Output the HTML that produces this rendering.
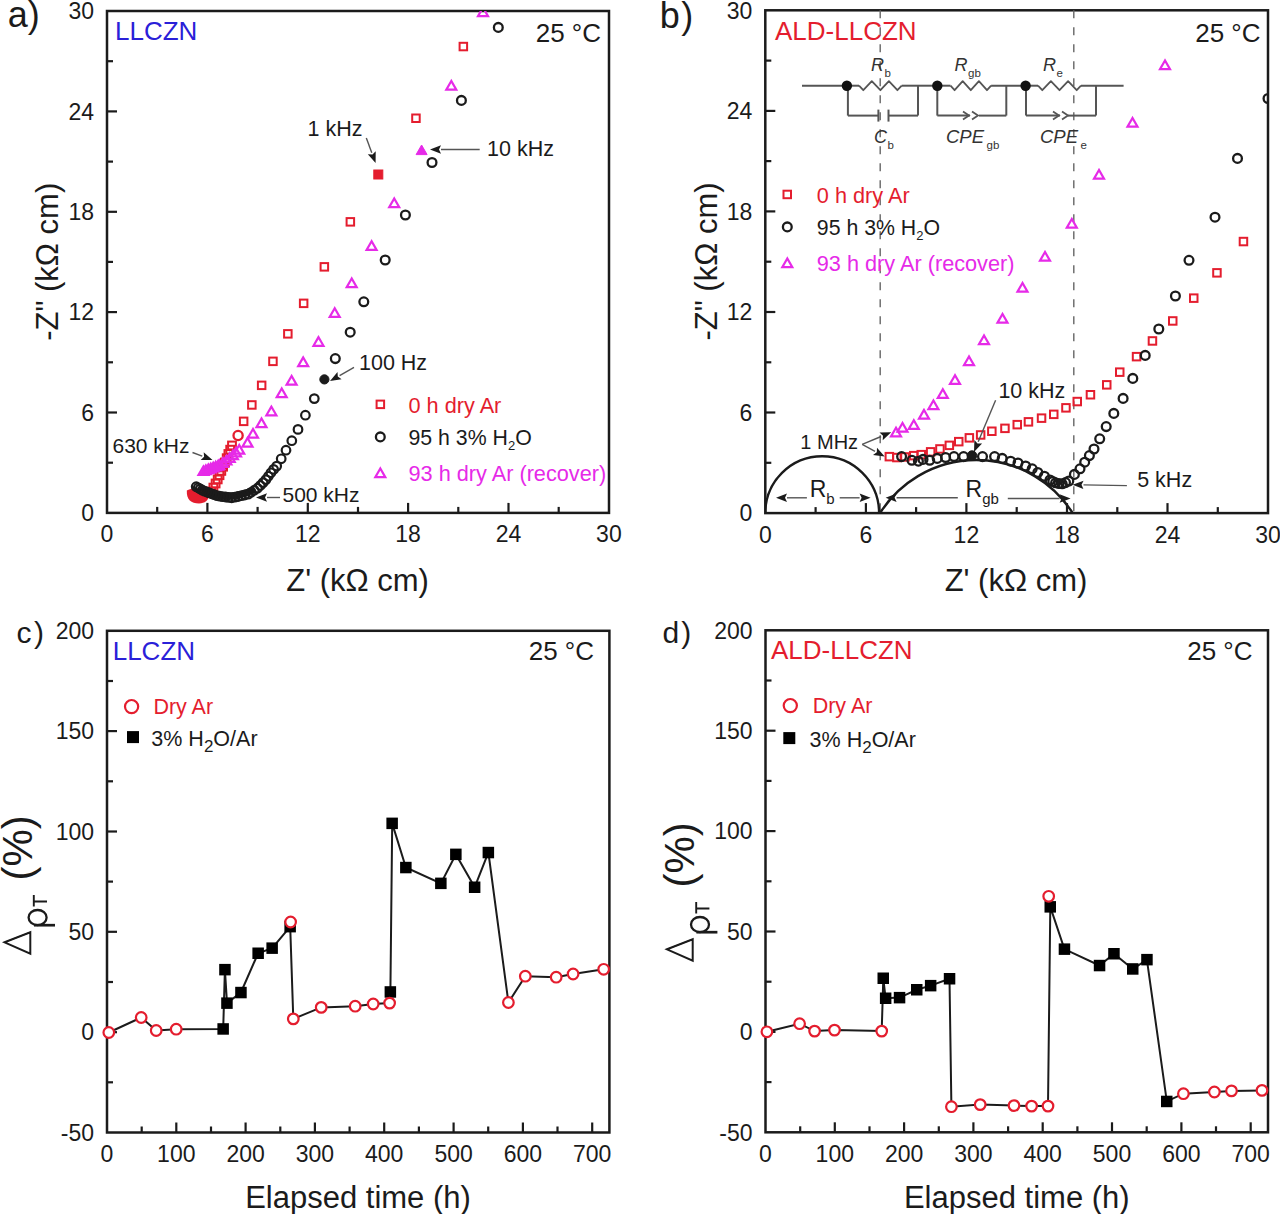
<!DOCTYPE html>
<html><head><meta charset="utf-8"><style>html,body{margin:0;padding:0;background:#fff;}svg{display:block;}</style></head><body>
<svg width="1280" height="1214" viewBox="0 0 1280 1214" font-family='"Liberation Sans", sans-serif'>
<rect width="1280" height="1214" fill="#ffffff"/>
<rect x="107" y="11" width="502" height="501.9" fill="none" stroke="#1b1b1b" stroke-width="2.5"/>
<line x1="157.2" y1="512.9" x2="157.2" y2="506.9" stroke="#1b1b1b" stroke-width="2.2" />
<line x1="207.4" y1="512.9" x2="207.4" y2="502.9" stroke="#1b1b1b" stroke-width="2.2" />
<line x1="257.6" y1="512.9" x2="257.6" y2="506.9" stroke="#1b1b1b" stroke-width="2.2" />
<line x1="307.8" y1="512.9" x2="307.8" y2="502.9" stroke="#1b1b1b" stroke-width="2.2" />
<line x1="358.0" y1="512.9" x2="358.0" y2="506.9" stroke="#1b1b1b" stroke-width="2.2" />
<line x1="408.1" y1="512.9" x2="408.1" y2="502.9" stroke="#1b1b1b" stroke-width="2.2" />
<line x1="458.3" y1="512.9" x2="458.3" y2="506.9" stroke="#1b1b1b" stroke-width="2.2" />
<line x1="508.5" y1="512.9" x2="508.5" y2="502.9" stroke="#1b1b1b" stroke-width="2.2" />
<line x1="558.7" y1="512.9" x2="558.7" y2="506.9" stroke="#1b1b1b" stroke-width="2.2" />
<line x1="107.0" y1="462.7" x2="113.0" y2="462.7" stroke="#1b1b1b" stroke-width="2.2" />
<line x1="107.0" y1="412.5" x2="117.0" y2="412.5" stroke="#1b1b1b" stroke-width="2.2" />
<line x1="107.0" y1="362.3" x2="113.0" y2="362.3" stroke="#1b1b1b" stroke-width="2.2" />
<line x1="107.0" y1="312.1" x2="117.0" y2="312.1" stroke="#1b1b1b" stroke-width="2.2" />
<line x1="107.0" y1="261.9" x2="113.0" y2="261.9" stroke="#1b1b1b" stroke-width="2.2" />
<line x1="107.0" y1="211.8" x2="117.0" y2="211.8" stroke="#1b1b1b" stroke-width="2.2" />
<line x1="107.0" y1="161.6" x2="113.0" y2="161.6" stroke="#1b1b1b" stroke-width="2.2" />
<line x1="107.0" y1="111.4" x2="117.0" y2="111.4" stroke="#1b1b1b" stroke-width="2.2" />
<line x1="107.0" y1="61.2" x2="113.0" y2="61.2" stroke="#1b1b1b" stroke-width="2.2" />
<text x="107.0" y="542.4" font-size="23" fill="#1b1b1b" text-anchor="middle" >0</text>
<text x="207.4" y="542.4" font-size="23" fill="#1b1b1b" text-anchor="middle" >6</text>
<text x="307.8" y="542.4" font-size="23" fill="#1b1b1b" text-anchor="middle" >12</text>
<text x="408.1" y="542.4" font-size="23" fill="#1b1b1b" text-anchor="middle" >18</text>
<text x="508.5" y="542.4" font-size="23" fill="#1b1b1b" text-anchor="middle" >24</text>
<text x="608.9" y="542.4" font-size="23" fill="#1b1b1b" text-anchor="middle" >30</text>
<text x="94.0" y="521.1" font-size="23" fill="#1b1b1b" text-anchor="end" >0</text>
<text x="94.0" y="420.7" font-size="23" fill="#1b1b1b" text-anchor="end" >6</text>
<text x="94.0" y="320.3" font-size="23" fill="#1b1b1b" text-anchor="end" >12</text>
<text x="94.0" y="220.0" font-size="23" fill="#1b1b1b" text-anchor="end" >18</text>
<text x="94.0" y="119.6" font-size="23" fill="#1b1b1b" text-anchor="end" >24</text>
<text x="94.0" y="19.2" font-size="23" fill="#1b1b1b" text-anchor="end" >30</text>
<text x="7.8" y="27.2" font-size="36" fill="#1b1b1b" text-anchor="start" >a)</text>
<text x="115.0" y="40.3" font-size="26" fill="#2a20d8" text-anchor="start" >LLCZN</text>
<text x="601.0" y="41.5" font-size="26" fill="#1b1b1b" text-anchor="end" >25 °C</text>
<text x="357.6" y="590.8" font-size="31" fill="#1b1b1b" text-anchor="middle" >Z' (kΩ cm)</text>
<text transform="translate(57.6,261.8) rotate(-90)" font-size="31" fill="#1b1b1b" text-anchor="middle">-Z" (kΩ cm)</text>
<clipPath id="ca"><rect x="107" y="11" width="502" height="501.9"/></clipPath>
<g clip-path="url(#ca)">
<rect x="459.6" y="42.8" width="7.5" height="7.5" fill="none" stroke="#e41d2e" stroke-width="2"/>
<rect x="412.2" y="114.5" width="7.5" height="7.5" fill="none" stroke="#e41d2e" stroke-width="2"/>
<rect x="346.6" y="218.1" width="7.5" height="7.5" fill="none" stroke="#e41d2e" stroke-width="2"/>
<rect x="320.6" y="263.1" width="7.5" height="7.5" fill="none" stroke="#e41d2e" stroke-width="2"/>
<rect x="299.9" y="299.6" width="7.5" height="7.5" fill="none" stroke="#e41d2e" stroke-width="2"/>
<rect x="284.1" y="330.1" width="7.5" height="7.5" fill="none" stroke="#e41d2e" stroke-width="2"/>
<rect x="269.2" y="357.6" width="7.5" height="7.5" fill="none" stroke="#e41d2e" stroke-width="2"/>
<rect x="257.9" y="381.6" width="7.5" height="7.5" fill="none" stroke="#e41d2e" stroke-width="2"/>
<rect x="248.1" y="401.2" width="7.5" height="7.5" fill="none" stroke="#e41d2e" stroke-width="2"/>
<rect x="239.9" y="417.6" width="7.5" height="7.5" fill="none" stroke="#e41d2e" stroke-width="2"/>
<rect x="228.1" y="441.6" width="7.8" height="7.8" fill="none" stroke="#e41d2e" stroke-width="2"/>
<rect x="226.3" y="445.8" width="7.8" height="7.8" fill="none" stroke="#e41d2e" stroke-width="2"/>
<rect x="224.5" y="450.1" width="7.8" height="7.8" fill="none" stroke="#e41d2e" stroke-width="2"/>
<rect x="222.8" y="454.3" width="7.8" height="7.8" fill="none" stroke="#e41d2e" stroke-width="2"/>
<rect x="221.0" y="458.6" width="7.8" height="7.8" fill="none" stroke="#e41d2e" stroke-width="2"/>
<rect x="219.2" y="462.8" width="7.8" height="7.8" fill="none" stroke="#e41d2e" stroke-width="2"/>
<rect x="217.4" y="467.0" width="7.8" height="7.8" fill="none" stroke="#e41d2e" stroke-width="2"/>
<rect x="215.6" y="471.3" width="7.8" height="7.8" fill="none" stroke="#e41d2e" stroke-width="2"/>
<rect x="213.8" y="475.5" width="7.8" height="7.8" fill="none" stroke="#e41d2e" stroke-width="2"/>
<rect x="211.7" y="479.6" width="7.8" height="7.8" fill="none" stroke="#e41d2e" stroke-width="2"/>
<rect x="209.5" y="483.7" width="7.8" height="7.8" fill="none" stroke="#e41d2e" stroke-width="2"/>
<rect x="207.4" y="487.7" width="7.8" height="7.8" fill="none" stroke="#e41d2e" stroke-width="2"/>
<path d="M 186.8 490.5 C 186.5 500 191 503.4 199 503.4 C 205 503.4 208.6 500 208.4 496.5 L 206.5 489.5 C 200 487.5 192 487.6 186.8 490.5 Z" fill="#e41d2e"/>
<rect x="373.8" y="170.0" width="9.0" height="9.0" fill="#e41d2e" stroke="#e41d2e" stroke-width="1"/>
<circle cx="238.1" cy="435.5" r="4.6" fill="none" stroke="#e41d2e" stroke-width="2.3"/>
<polygon points="483.0,7.5 478.0,16.2 488.0,16.2" fill="none" stroke="#e62ae8" stroke-width="2.2" stroke-linejoin="miter"/>
<polygon points="451.3,81.0 446.3,89.7 456.3,89.7" fill="none" stroke="#e62ae8" stroke-width="2.2" stroke-linejoin="miter"/>
<polygon points="394.2,198.5 389.2,207.2 399.2,207.2" fill="none" stroke="#e62ae8" stroke-width="2.2" stroke-linejoin="miter"/>
<polygon points="371.6,241.2 366.6,249.9 376.6,249.9" fill="none" stroke="#e62ae8" stroke-width="2.2" stroke-linejoin="miter"/>
<polygon points="351.7,278.5 346.7,287.2 356.7,287.2" fill="none" stroke="#e62ae8" stroke-width="2.2" stroke-linejoin="miter"/>
<polygon points="334.7,308.2 329.7,316.9 339.7,316.9" fill="none" stroke="#e62ae8" stroke-width="2.2" stroke-linejoin="miter"/>
<polygon points="318.5,337.1 313.5,345.8 323.5,345.8" fill="none" stroke="#e62ae8" stroke-width="2.2" stroke-linejoin="miter"/>
<polygon points="303.2,357.4 298.2,366.1 308.2,366.1" fill="none" stroke="#e62ae8" stroke-width="2.2" stroke-linejoin="miter"/>
<polygon points="291.6,376.0 286.6,384.7 296.6,384.7" fill="none" stroke="#e62ae8" stroke-width="2.2" stroke-linejoin="miter"/>
<polygon points="281.7,388.5 276.7,397.2 286.7,397.2" fill="none" stroke="#e62ae8" stroke-width="2.2" stroke-linejoin="miter"/>
<polygon points="271.4,406.6 266.4,415.3 276.4,415.3" fill="none" stroke="#e62ae8" stroke-width="2.2" stroke-linejoin="miter"/>
<polygon points="261.5,418.5 256.5,427.2 266.5,427.2" fill="none" stroke="#e62ae8" stroke-width="2.2" stroke-linejoin="miter"/>
<polygon points="253.0,429.0 248.0,437.7 258.0,437.7" fill="none" stroke="#e62ae8" stroke-width="2.2" stroke-linejoin="miter"/>
<polygon points="247.5,438.0 242.5,446.7 252.5,446.7" fill="none" stroke="#e62ae8" stroke-width="2.2" stroke-linejoin="miter"/>
<polygon points="239.2,445.0 234.2,453.7 244.2,453.7" fill="none" stroke="#e62ae8" stroke-width="2.2" stroke-linejoin="miter"/>
<polygon points="236.0,447.8 231.0,456.4 241.0,456.4" fill="none" stroke="#e62ae8" stroke-width="2.2" stroke-linejoin="miter"/>
<polygon points="232.9,450.5 227.9,459.2 237.9,459.2" fill="none" stroke="#e62ae8" stroke-width="2.2" stroke-linejoin="miter"/>
<polygon points="229.7,453.2 224.7,461.9 234.7,461.9" fill="none" stroke="#e62ae8" stroke-width="2.2" stroke-linejoin="miter"/>
<polygon points="226.4,455.9 221.4,464.5 231.4,464.5" fill="none" stroke="#e62ae8" stroke-width="2.2" stroke-linejoin="miter"/>
<polygon points="222.9,458.1 217.9,466.8 227.9,466.8" fill="none" stroke="#e62ae8" stroke-width="2.2" stroke-linejoin="miter"/>
<polygon points="219.2,460.2 214.2,468.9 224.2,468.9" fill="none" stroke="#e62ae8" stroke-width="2.2" stroke-linejoin="miter"/>
<polygon points="218.1,460.9 213.1,469.6 223.1,469.6" fill="none" stroke="#e62ae8" stroke-width="2.2" stroke-linejoin="miter"/>
<polygon points="215.7,461.8 210.7,470.5 220.7,470.5" fill="none" stroke="#e62ae8" stroke-width="2.2" stroke-linejoin="miter"/>
<polygon points="213.2,462.7 208.2,471.4 218.2,471.4" fill="none" stroke="#e62ae8" stroke-width="2.2" stroke-linejoin="miter"/>
<polygon points="210.8,463.6 205.8,472.3 215.8,472.3" fill="none" stroke="#e62ae8" stroke-width="2.2" stroke-linejoin="miter"/>
<polygon points="208.3,464.5 203.3,473.2 213.3,473.2" fill="none" stroke="#e62ae8" stroke-width="2.2" stroke-linejoin="miter"/>
<polygon points="205.9,465.4 200.9,474.1 210.9,474.1" fill="none" stroke="#e62ae8" stroke-width="2.2" stroke-linejoin="miter"/>
<polygon points="203.5,466.4 198.5,475.0 208.5,475.0" fill="none" stroke="#e62ae8" stroke-width="2.2" stroke-linejoin="miter"/>
<polygon points="421.6,145.0 416.1,154.6 427.1,154.6" fill="#e62ae8" stroke="#e62ae8" stroke-width="1" stroke-linejoin="miter"/>
<circle cx="498.3" cy="27.4" r="4.4" fill="none" stroke="#1b1b1b" stroke-width="2.3"/>
<circle cx="461.4" cy="100.4" r="4.4" fill="none" stroke="#1b1b1b" stroke-width="2.3"/>
<circle cx="432.0" cy="162.5" r="4.4" fill="none" stroke="#1b1b1b" stroke-width="2.3"/>
<circle cx="405.4" cy="215.0" r="4.4" fill="none" stroke="#1b1b1b" stroke-width="2.3"/>
<circle cx="385.2" cy="260.0" r="4.4" fill="none" stroke="#1b1b1b" stroke-width="2.3"/>
<circle cx="363.8" cy="301.8" r="4.4" fill="none" stroke="#1b1b1b" stroke-width="2.3"/>
<circle cx="350.2" cy="332.2" r="4.4" fill="none" stroke="#1b1b1b" stroke-width="2.3"/>
<circle cx="335.3" cy="358.6" r="4.4" fill="none" stroke="#1b1b1b" stroke-width="2.3"/>
<circle cx="314.3" cy="398.6" r="4.3" fill="none" stroke="#1b1b1b" stroke-width="2.2"/>
<circle cx="305.4" cy="415.2" r="4.3" fill="none" stroke="#1b1b1b" stroke-width="2.2"/>
<circle cx="298.0" cy="429.4" r="4.3" fill="none" stroke="#1b1b1b" stroke-width="2.2"/>
<circle cx="291.8" cy="440.7" r="4.3" fill="none" stroke="#1b1b1b" stroke-width="2.2"/>
<circle cx="286.0" cy="450.2" r="4.3" fill="none" stroke="#1b1b1b" stroke-width="2.2"/>
<circle cx="281.2" cy="458.8" r="4.3" fill="none" stroke="#1b1b1b" stroke-width="2.2"/>
<path d="M 203 490.5 Q 230 502 255 489" fill="none" stroke="#1b1b1b" stroke-width="7"/>
<circle cx="276.7" cy="466.1" r="4.3" fill="none" stroke="#1b1b1b" stroke-width="2.2"/>
<circle cx="273.6" cy="469.4" r="4.3" fill="none" stroke="#1b1b1b" stroke-width="2.2"/>
<circle cx="270.9" cy="472.8" r="4.3" fill="none" stroke="#1b1b1b" stroke-width="2.2"/>
<circle cx="268.4" cy="476.3" r="4.3" fill="none" stroke="#1b1b1b" stroke-width="2.2"/>
<circle cx="265.9" cy="479.6" r="4.3" fill="none" stroke="#1b1b1b" stroke-width="2.2"/>
<circle cx="263.1" cy="482.6" r="4.3" fill="none" stroke="#1b1b1b" stroke-width="2.2"/>
<circle cx="260.3" cy="485.5" r="4.3" fill="none" stroke="#1b1b1b" stroke-width="2.2"/>
<circle cx="257.5" cy="488.2" r="4.3" fill="none" stroke="#1b1b1b" stroke-width="2.2"/>
<circle cx="254.3" cy="490.2" r="4.3" fill="none" stroke="#1b1b1b" stroke-width="2.2"/>
<circle cx="251.2" cy="492.3" r="4.3" fill="none" stroke="#1b1b1b" stroke-width="2.2"/>
<circle cx="248.2" cy="494.2" r="4.3" fill="none" stroke="#1b1b1b" stroke-width="2.2"/>
<circle cx="244.7" cy="495.0" r="4.3" fill="none" stroke="#1b1b1b" stroke-width="2.2"/>
<circle cx="241.4" cy="495.7" r="4.3" fill="none" stroke="#1b1b1b" stroke-width="2.2"/>
<circle cx="238.1" cy="496.5" r="4.3" fill="none" stroke="#1b1b1b" stroke-width="2.2"/>
<circle cx="234.9" cy="497.2" r="4.3" fill="none" stroke="#1b1b1b" stroke-width="2.2"/>
<circle cx="231.7" cy="497.8" r="4.3" fill="none" stroke="#1b1b1b" stroke-width="2.2"/>
<circle cx="228.6" cy="497.4" r="4.3" fill="none" stroke="#1b1b1b" stroke-width="2.2"/>
<circle cx="225.6" cy="497.0" r="4.3" fill="none" stroke="#1b1b1b" stroke-width="2.2"/>
<circle cx="222.6" cy="496.6" r="4.3" fill="none" stroke="#1b1b1b" stroke-width="2.2"/>
<circle cx="219.7" cy="496.2" r="4.3" fill="none" stroke="#1b1b1b" stroke-width="2.2"/>
<circle cx="217.0" cy="495.6" r="4.3" fill="none" stroke="#1b1b1b" stroke-width="2.2"/>
<circle cx="214.4" cy="494.7" r="4.3" fill="none" stroke="#1b1b1b" stroke-width="2.2"/>
<circle cx="211.8" cy="493.8" r="4.3" fill="none" stroke="#1b1b1b" stroke-width="2.2"/>
<circle cx="209.3" cy="492.9" r="4.3" fill="none" stroke="#1b1b1b" stroke-width="2.2"/>
<circle cx="206.9" cy="492.0" r="4.3" fill="none" stroke="#1b1b1b" stroke-width="2.2"/>
<circle cx="204.5" cy="491.2" r="4.3" fill="none" stroke="#1b1b1b" stroke-width="2.2"/>
<circle cx="202.3" cy="490.1" r="4.3" fill="none" stroke="#1b1b1b" stroke-width="2.2"/>
<circle cx="200.2" cy="488.9" r="4.3" fill="none" stroke="#1b1b1b" stroke-width="2.2"/>
<circle cx="198.2" cy="487.8" r="4.3" fill="none" stroke="#1b1b1b" stroke-width="2.2"/>
<circle cx="196.2" cy="486.7" r="4.3" fill="none" stroke="#1b1b1b" stroke-width="2.2"/>
<circle cx="324.4" cy="379.4" r="4.6" fill="#1b1b1b" stroke="#1b1b1b" stroke-width="1"/>
</g>
<rect x="376.6" y="400.6" width="7.5" height="7.5" fill="none" stroke="#e41d2e" stroke-width="2"/>
<circle cx="380.3" cy="436.9" r="4.4" fill="none" stroke="#1b1b1b" stroke-width="2.3"/>
<polygon points="380.3,468.5 375.3,477.2 385.3,477.2" fill="none" stroke="#e62ae8" stroke-width="2.2" stroke-linejoin="miter"/>
<text x="408.5" y="412.5" font-size="21.7" fill="#e41d2e" text-anchor="start" >0 h dry Ar</text>
<text x="408.5" y="445.0" font-size="21.3" fill="#1b1b1b" text-anchor="start" >95 h 3% H<tspan font-size="13" dy="5">2</tspan><tspan dy="-5">O</tspan></text>
<text x="408.5" y="480.5" font-size="21.7" fill="#e62ae8" text-anchor="start" >93 h dry Ar (recover)</text>
<text x="307.5" y="136.0" font-size="21.5" fill="#1b1b1b" text-anchor="start" >1 kHz</text>
<line x1="366.3" y1="138.0" x2="371.8" y2="152.7" stroke="#555" stroke-width="1.4" />
<polygon points="375.6,163.0 367.8,154.2 372.5,154.6 375.7,151.2" fill="#1b1b1b"/>
<text x="487.0" y="156.0" font-size="21.5" fill="#1b1b1b" text-anchor="start" >10 kHz</text>
<line x1="479.7" y1="149.5" x2="441.0" y2="149.5" stroke="#555" stroke-width="1.4" />
<polygon points="430.0,149.5 441.0,145.3 439.0,149.5 441.0,153.7" fill="#1b1b1b"/>
<text x="359.0" y="370.0" font-size="21.5" fill="#1b1b1b" text-anchor="start" >100 Hz</text>
<line x1="354.0" y1="367.4" x2="339.6" y2="375.6" stroke="#555" stroke-width="1.4" />
<polygon points="330.0,381.0 337.5,371.9 337.8,376.6 341.6,379.2" fill="#1b1b1b"/>
<text x="112.5" y="452.5" font-size="21" fill="#1b1b1b" text-anchor="start" >630 kHz</text>
<line x1="192.5" y1="452.5" x2="202.2" y2="456.1" stroke="#555" stroke-width="1.4" />
<polygon points="212.5,460.0 200.7,460.1 204.1,456.8 203.7,452.2" fill="#1b1b1b"/>
<text x="282.5" y="501.5" font-size="21" fill="#1b1b1b" text-anchor="start" >500 kHz</text>
<line x1="280.0" y1="497.5" x2="267.0" y2="497.5" stroke="#555" stroke-width="1.4" />
<polygon points="256.0,497.5 267.0,493.3 265.0,497.5 267.0,501.7" fill="#1b1b1b"/>
<rect x="765.3" y="10.3" width="502.70000000000005" height="502.8" fill="none" stroke="#1b1b1b" stroke-width="2.5"/>
<line x1="815.6" y1="513.1" x2="815.6" y2="507.1" stroke="#1b1b1b" stroke-width="2.2" />
<line x1="865.9" y1="513.1" x2="865.9" y2="503.1" stroke="#1b1b1b" stroke-width="2.2" />
<line x1="916.1" y1="513.1" x2="916.1" y2="507.1" stroke="#1b1b1b" stroke-width="2.2" />
<line x1="966.4" y1="513.1" x2="966.4" y2="503.1" stroke="#1b1b1b" stroke-width="2.2" />
<line x1="1016.7" y1="513.1" x2="1016.7" y2="507.1" stroke="#1b1b1b" stroke-width="2.2" />
<line x1="1067.0" y1="513.1" x2="1067.0" y2="503.1" stroke="#1b1b1b" stroke-width="2.2" />
<line x1="1117.3" y1="513.1" x2="1117.3" y2="507.1" stroke="#1b1b1b" stroke-width="2.2" />
<line x1="1167.5" y1="513.1" x2="1167.5" y2="503.1" stroke="#1b1b1b" stroke-width="2.2" />
<line x1="1217.8" y1="513.1" x2="1217.8" y2="507.1" stroke="#1b1b1b" stroke-width="2.2" />
<line x1="765.3" y1="462.8" x2="771.3" y2="462.8" stroke="#1b1b1b" stroke-width="2.2" />
<line x1="765.3" y1="412.5" x2="775.3" y2="412.5" stroke="#1b1b1b" stroke-width="2.2" />
<line x1="765.3" y1="362.3" x2="771.3" y2="362.3" stroke="#1b1b1b" stroke-width="2.2" />
<line x1="765.3" y1="312.0" x2="775.3" y2="312.0" stroke="#1b1b1b" stroke-width="2.2" />
<line x1="765.3" y1="261.7" x2="771.3" y2="261.7" stroke="#1b1b1b" stroke-width="2.2" />
<line x1="765.3" y1="211.4" x2="775.3" y2="211.4" stroke="#1b1b1b" stroke-width="2.2" />
<line x1="765.3" y1="161.1" x2="771.3" y2="161.1" stroke="#1b1b1b" stroke-width="2.2" />
<line x1="765.3" y1="110.9" x2="775.3" y2="110.9" stroke="#1b1b1b" stroke-width="2.2" />
<line x1="765.3" y1="60.6" x2="771.3" y2="60.6" stroke="#1b1b1b" stroke-width="2.2" />
<text x="765.3" y="542.6" font-size="23" fill="#1b1b1b" text-anchor="middle" >0</text>
<text x="865.9" y="542.6" font-size="23" fill="#1b1b1b" text-anchor="middle" >6</text>
<text x="966.4" y="542.6" font-size="23" fill="#1b1b1b" text-anchor="middle" >12</text>
<text x="1067.0" y="542.6" font-size="23" fill="#1b1b1b" text-anchor="middle" >18</text>
<text x="1167.5" y="542.6" font-size="23" fill="#1b1b1b" text-anchor="middle" >24</text>
<text x="1268.1" y="542.6" font-size="23" fill="#1b1b1b" text-anchor="middle" >30</text>
<text x="752.3" y="521.3" font-size="23" fill="#1b1b1b" text-anchor="end" >0</text>
<text x="752.3" y="420.7" font-size="23" fill="#1b1b1b" text-anchor="end" >6</text>
<text x="752.3" y="320.2" font-size="23" fill="#1b1b1b" text-anchor="end" >12</text>
<text x="752.3" y="219.6" font-size="23" fill="#1b1b1b" text-anchor="end" >18</text>
<text x="752.3" y="119.1" font-size="23" fill="#1b1b1b" text-anchor="end" >24</text>
<text x="752.3" y="18.5" font-size="23" fill="#1b1b1b" text-anchor="end" >30</text>
<text x="659.7" y="28.0" font-size="36" fill="#1b1b1b" text-anchor="start" >b<tspan dx="1.5">)</tspan></text>
<text x="775.0" y="40.0" font-size="26" fill="#e41d2e" text-anchor="start" >ALD-LLCZN</text>
<text x="1260.5" y="41.5" font-size="26" fill="#1b1b1b" text-anchor="end" >25 °C</text>
<text x="1016.0" y="590.8" font-size="31" fill="#1b1b1b" text-anchor="middle" >Z' (kΩ cm)</text>
<text transform="translate(716.5,261.5) rotate(-90)" font-size="31" fill="#1b1b1b" text-anchor="middle">-Z" (kΩ cm)</text>
<line x1="880.2" y1="10.3" x2="880.2" y2="513.1" stroke="#666" stroke-width="1.4" stroke-dasharray="8,9"/>
<line x1="1073.8" y1="10.3" x2="1073.8" y2="513.1" stroke="#666" stroke-width="1.4" stroke-dasharray="8,9"/>
<clipPath id="cb"><rect x="765.3" y="10.3" width="502.70000000000005" height="502.8"/></clipPath>
<g clip-path="url(#cb)">
<path d="M 765.3 513.1 A 56.9 56.9 0 0 1 879.1 513.1" fill="none" stroke="#1b1b1b" stroke-width="2.4"/>
<path d="M 880 513.1 A 114 114 0 0 1 1072.7 513.1" fill="none" stroke="#1b1b1b" stroke-width="2.4"/>
<rect x="885.6" y="452.9" width="7.5" height="7.5" fill="none" stroke="#e41d2e" stroke-width="2"/>
<rect x="893.1" y="453.8" width="7.5" height="7.5" fill="none" stroke="#e41d2e" stroke-width="2"/>
<rect x="901.2" y="453.2" width="7.5" height="7.5" fill="none" stroke="#e41d2e" stroke-width="2"/>
<rect x="910.0" y="451.9" width="7.5" height="7.5" fill="none" stroke="#e41d2e" stroke-width="2"/>
<rect x="917.5" y="450.9" width="7.5" height="7.5" fill="none" stroke="#e41d2e" stroke-width="2"/>
<rect x="926.9" y="448.1" width="7.5" height="7.5" fill="none" stroke="#e41d2e" stroke-width="2"/>
<rect x="936.2" y="445.2" width="7.5" height="7.5" fill="none" stroke="#e41d2e" stroke-width="2"/>
<rect x="945.6" y="441.6" width="7.5" height="7.5" fill="none" stroke="#e41d2e" stroke-width="2"/>
<rect x="955.0" y="437.9" width="7.5" height="7.5" fill="none" stroke="#e41d2e" stroke-width="2"/>
<rect x="965.6" y="434.1" width="7.5" height="7.5" fill="none" stroke="#e41d2e" stroke-width="2"/>
<rect x="976.9" y="431.2" width="7.5" height="7.5" fill="none" stroke="#e41d2e" stroke-width="2"/>
<rect x="988.1" y="427.5" width="7.5" height="7.5" fill="none" stroke="#e41d2e" stroke-width="2"/>
<rect x="1001.2" y="424.6" width="7.5" height="7.5" fill="none" stroke="#e41d2e" stroke-width="2"/>
<rect x="1013.5" y="420.9" width="7.5" height="7.5" fill="none" stroke="#e41d2e" stroke-width="2"/>
<rect x="1024.7" y="418.1" width="7.5" height="7.5" fill="none" stroke="#e41d2e" stroke-width="2"/>
<rect x="1037.8" y="414.4" width="7.5" height="7.5" fill="none" stroke="#e41d2e" stroke-width="2"/>
<rect x="1050.0" y="410.6" width="7.5" height="7.5" fill="none" stroke="#e41d2e" stroke-width="2"/>
<rect x="1062.2" y="404.1" width="7.5" height="7.5" fill="none" stroke="#e41d2e" stroke-width="2"/>
<rect x="1073.5" y="397.8" width="7.5" height="7.5" fill="none" stroke="#e41d2e" stroke-width="2"/>
<rect x="1086.7" y="391.0" width="7.5" height="7.5" fill="none" stroke="#e41d2e" stroke-width="2"/>
<rect x="1103.0" y="381.1" width="7.5" height="7.5" fill="none" stroke="#e41d2e" stroke-width="2"/>
<rect x="1116.0" y="368.4" width="7.5" height="7.5" fill="none" stroke="#e41d2e" stroke-width="2"/>
<rect x="1132.8" y="352.9" width="7.5" height="7.5" fill="none" stroke="#e41d2e" stroke-width="2"/>
<rect x="1148.7" y="337.2" width="7.5" height="7.5" fill="none" stroke="#e41d2e" stroke-width="2"/>
<rect x="1169.0" y="317.2" width="7.5" height="7.5" fill="none" stroke="#e41d2e" stroke-width="2"/>
<rect x="1190.0" y="294.4" width="7.5" height="7.5" fill="none" stroke="#e41d2e" stroke-width="2"/>
<rect x="1213.2" y="269.1" width="7.5" height="7.5" fill="none" stroke="#e41d2e" stroke-width="2"/>
<rect x="1239.7" y="237.8" width="7.5" height="7.5" fill="none" stroke="#e41d2e" stroke-width="2"/>
<polygon points="1165.0,60.5 1160.0,69.2 1170.0,69.2" fill="none" stroke="#e62ae8" stroke-width="2.2" stroke-linejoin="miter"/>
<polygon points="1132.5,118.0 1127.5,126.7 1137.5,126.7" fill="none" stroke="#e62ae8" stroke-width="2.2" stroke-linejoin="miter"/>
<polygon points="1099.0,170.0 1094.0,178.7 1104.0,178.7" fill="none" stroke="#e62ae8" stroke-width="2.2" stroke-linejoin="miter"/>
<polygon points="1071.8,219.0 1066.8,227.7 1076.8,227.7" fill="none" stroke="#e62ae8" stroke-width="2.2" stroke-linejoin="miter"/>
<polygon points="1045.0,252.0 1040.0,260.7 1050.0,260.7" fill="none" stroke="#e62ae8" stroke-width="2.2" stroke-linejoin="miter"/>
<polygon points="1022.5,283.0 1017.5,291.7 1027.5,291.7" fill="none" stroke="#e62ae8" stroke-width="2.2" stroke-linejoin="miter"/>
<polygon points="1002.5,314.0 997.5,322.7 1007.5,322.7" fill="none" stroke="#e62ae8" stroke-width="2.2" stroke-linejoin="miter"/>
<polygon points="984.0,335.5 979.0,344.2 989.0,344.2" fill="none" stroke="#e62ae8" stroke-width="2.2" stroke-linejoin="miter"/>
<polygon points="969.0,356.5 964.0,365.2 974.0,365.2" fill="none" stroke="#e62ae8" stroke-width="2.2" stroke-linejoin="miter"/>
<polygon points="955.0,375.2 950.0,383.9 960.0,383.9" fill="none" stroke="#e62ae8" stroke-width="2.2" stroke-linejoin="miter"/>
<polygon points="942.8,389.2 937.8,397.9 947.8,397.9" fill="none" stroke="#e62ae8" stroke-width="2.2" stroke-linejoin="miter"/>
<polygon points="933.4,400.5 928.4,409.2 938.4,409.2" fill="none" stroke="#e62ae8" stroke-width="2.2" stroke-linejoin="miter"/>
<polygon points="924.0,409.9 919.0,418.6 929.0,418.6" fill="none" stroke="#e62ae8" stroke-width="2.2" stroke-linejoin="miter"/>
<polygon points="913.8,420.2 908.8,428.9 918.8,428.9" fill="none" stroke="#e62ae8" stroke-width="2.2" stroke-linejoin="miter"/>
<polygon points="902.5,423.0 897.5,431.7 907.5,431.7" fill="none" stroke="#e62ae8" stroke-width="2.2" stroke-linejoin="miter"/>
<polygon points="896.0,427.7 891.0,436.4 901.0,436.4" fill="none" stroke="#e62ae8" stroke-width="2.2" stroke-linejoin="miter"/>
<circle cx="901.6" cy="456.6" r="4.4" fill="none" stroke="#1b1b1b" stroke-width="2.3"/>
<circle cx="911.9" cy="460.3" r="4.4" fill="none" stroke="#1b1b1b" stroke-width="2.3"/>
<circle cx="918.4" cy="461.2" r="4.4" fill="none" stroke="#1b1b1b" stroke-width="2.3"/>
<circle cx="923.0" cy="459.4" r="4.4" fill="none" stroke="#1b1b1b" stroke-width="2.3"/>
<circle cx="929.7" cy="460.3" r="4.4" fill="none" stroke="#1b1b1b" stroke-width="2.3"/>
<circle cx="937.2" cy="458.4" r="4.4" fill="none" stroke="#1b1b1b" stroke-width="2.3"/>
<circle cx="945.6" cy="457.5" r="4.4" fill="none" stroke="#1b1b1b" stroke-width="2.3"/>
<circle cx="954.0" cy="456.6" r="4.4" fill="none" stroke="#1b1b1b" stroke-width="2.3"/>
<circle cx="963.6" cy="456.6" r="4.4" fill="none" stroke="#1b1b1b" stroke-width="2.3"/>
<circle cx="982.5" cy="456.6" r="4.4" fill="none" stroke="#1b1b1b" stroke-width="2.3"/>
<circle cx="994.6" cy="456.6" r="4.4" fill="none" stroke="#1b1b1b" stroke-width="2.3"/>
<circle cx="1002.2" cy="458.4" r="4.4" fill="none" stroke="#1b1b1b" stroke-width="2.3"/>
<circle cx="1010.6" cy="461.2" r="4.4" fill="none" stroke="#1b1b1b" stroke-width="2.3"/>
<circle cx="1018.0" cy="463.0" r="4.4" fill="none" stroke="#1b1b1b" stroke-width="2.3"/>
<circle cx="1025.6" cy="466.0" r="4.4" fill="none" stroke="#1b1b1b" stroke-width="2.3"/>
<circle cx="1032.2" cy="468.8" r="4.4" fill="none" stroke="#1b1b1b" stroke-width="2.3"/>
<circle cx="1037.8" cy="472.5" r="4.4" fill="none" stroke="#1b1b1b" stroke-width="2.3"/>
<circle cx="1044.4" cy="476.2" r="4.4" fill="none" stroke="#1b1b1b" stroke-width="2.3"/>
<circle cx="1050.0" cy="480.0" r="4.4" fill="none" stroke="#1b1b1b" stroke-width="2.3"/>
<circle cx="1052.8" cy="481.5" r="4.4" fill="none" stroke="#1b1b1b" stroke-width="2.3"/>
<circle cx="1055.6" cy="482.8" r="4.4" fill="none" stroke="#1b1b1b" stroke-width="2.3"/>
<circle cx="1058.9" cy="483.5" r="4.4" fill="none" stroke="#1b1b1b" stroke-width="2.3"/>
<circle cx="1062.2" cy="483.8" r="4.4" fill="none" stroke="#1b1b1b" stroke-width="2.3"/>
<circle cx="1065.5" cy="482.6" r="4.4" fill="none" stroke="#1b1b1b" stroke-width="2.3"/>
<circle cx="1068.8" cy="481.0" r="4.4" fill="none" stroke="#1b1b1b" stroke-width="2.3"/>
<circle cx="1074.4" cy="474.4" r="4.4" fill="none" stroke="#1b1b1b" stroke-width="2.3"/>
<circle cx="1080.0" cy="468.8" r="4.4" fill="none" stroke="#1b1b1b" stroke-width="2.3"/>
<circle cx="1084.7" cy="462.2" r="4.4" fill="none" stroke="#1b1b1b" stroke-width="2.3"/>
<circle cx="1089.4" cy="455.6" r="4.4" fill="none" stroke="#1b1b1b" stroke-width="2.3"/>
<circle cx="1094.0" cy="449.0" r="4.4" fill="none" stroke="#1b1b1b" stroke-width="2.3"/>
<circle cx="1099.7" cy="438.8" r="4.4" fill="none" stroke="#1b1b1b" stroke-width="2.3"/>
<circle cx="1106.2" cy="426.6" r="4.4" fill="none" stroke="#1b1b1b" stroke-width="2.3"/>
<circle cx="1113.8" cy="413.4" r="4.4" fill="none" stroke="#1b1b1b" stroke-width="2.3"/>
<circle cx="1123.1" cy="398.4" r="4.4" fill="none" stroke="#1b1b1b" stroke-width="2.3"/>
<circle cx="1132.8" cy="378.4" r="4.4" fill="none" stroke="#1b1b1b" stroke-width="2.3"/>
<circle cx="1145.2" cy="355.4" r="4.4" fill="none" stroke="#1b1b1b" stroke-width="2.3"/>
<circle cx="1158.8" cy="329.0" r="4.4" fill="none" stroke="#1b1b1b" stroke-width="2.3"/>
<circle cx="1175.4" cy="296.0" r="4.4" fill="none" stroke="#1b1b1b" stroke-width="2.3"/>
<circle cx="1189.0" cy="260.3" r="4.4" fill="none" stroke="#1b1b1b" stroke-width="2.3"/>
<circle cx="1215.0" cy="217.2" r="4.4" fill="none" stroke="#1b1b1b" stroke-width="2.3"/>
<circle cx="1237.5" cy="158.4" r="4.4" fill="none" stroke="#1b1b1b" stroke-width="2.3"/>
<circle cx="1268.0" cy="98.5" r="4.4" fill="none" stroke="#1b1b1b" stroke-width="2.3"/>
<circle cx="972.0" cy="455.6" r="4.8" fill="#1b1b1b" stroke="#1b1b1b" stroke-width="1"/>
</g>
<rect x="783.5" y="190.7" width="7.5" height="7.5" fill="none" stroke="#e41d2e" stroke-width="2"/>
<circle cx="787.3" cy="226.9" r="4.4" fill="none" stroke="#1b1b1b" stroke-width="2.3"/>
<polygon points="787.3,258.5 782.3,267.2 792.3,267.2" fill="none" stroke="#e62ae8" stroke-width="2.2" stroke-linejoin="miter"/>
<text x="816.8" y="202.5" font-size="21.7" fill="#e41d2e" text-anchor="start" >0 h dry Ar</text>
<text x="816.8" y="234.6" font-size="21.3" fill="#1b1b1b" text-anchor="start" >95 h 3% H<tspan font-size="13" dy="5">2</tspan><tspan dy="-5">O</tspan></text>
<text x="816.8" y="270.5" font-size="21.7" fill="#e62ae8" text-anchor="start" >93 h dry Ar (recover)</text>
<line x1="802.0" y1="85.7" x2="847.0" y2="85.7" stroke="#555555" stroke-width="2" />
<line x1="847.0" y1="85.7" x2="859.0" y2="85.7" stroke="#555555" stroke-width="2" />
<path d="M 859.0 85.7 L 863.3 90.2 L 871.8 81.2 L 880.4 90.2 L 888.9 81.2 L 897.4 90.2 L 901.7 85.7" fill="none" stroke="#555555" stroke-width="1.8" stroke-linejoin="round"/>
<line x1="901.7" y1="85.7" x2="918.0" y2="85.7" stroke="#555555" stroke-width="2" />
<line x1="918.0" y1="85.7" x2="937.3" y2="85.7" stroke="#555555" stroke-width="2" />
<line x1="847.9" y1="85.7" x2="847.9" y2="115.6" stroke="#555555" stroke-width="2" />
<line x1="918.0" y1="85.7" x2="918.0" y2="115.6" stroke="#555555" stroke-width="2" />
<line x1="847.9" y1="115.6" x2="878.4" y2="115.6" stroke="#555555" stroke-width="2" />
<line x1="888.5" y1="115.6" x2="918.0" y2="115.6" stroke="#555555" stroke-width="2" />
<line x1="878.4" y1="109.6" x2="878.4" y2="121.6" stroke="#555555" stroke-width="2" />
<line x1="888.5" y1="109.6" x2="888.5" y2="121.6" stroke="#555555" stroke-width="2" />
<line x1="937.3" y1="85.7" x2="950.5" y2="85.7" stroke="#555555" stroke-width="2" />
<path d="M 950.5 85.7 L 954.6 90.2 L 962.7 81.2 L 970.8 90.2 L 978.9 81.2 L 987.0 90.2 L 991.1 85.7" fill="none" stroke="#555555" stroke-width="1.8" stroke-linejoin="round"/>
<line x1="991.1" y1="85.7" x2="1025.6" y2="85.7" stroke="#555555" stroke-width="2" />
<line x1="937.3" y1="85.7" x2="937.3" y2="115.6" stroke="#555555" stroke-width="2" />
<line x1="1006.3" y1="85.7" x2="1006.3" y2="115.6" stroke="#555555" stroke-width="2" />
<line x1="937.3" y1="115.6" x2="970.0" y2="115.6" stroke="#555555" stroke-width="2" />
<line x1="979.0" y1="115.6" x2="1006.3" y2="115.6" stroke="#555555" stroke-width="2" />
<path d="M 963 111.6 L 969 115.6 L 963 119.6 M 972 111.6 L 978 115.6 L 972 119.6" fill="none" stroke="#555555" stroke-width="1.8"/>
<line x1="1025.6" y1="85.7" x2="1038.0" y2="85.7" stroke="#555555" stroke-width="2" />
<path d="M 1038.0 85.7 L 1042.3 90.2 L 1050.9 81.2 L 1059.5 90.2 L 1068.1 81.2 L 1076.7 90.2 L 1081.0 85.7" fill="none" stroke="#555555" stroke-width="1.8" stroke-linejoin="round"/>
<line x1="1081.0" y1="85.7" x2="1123.6" y2="85.7" stroke="#555555" stroke-width="2" />
<line x1="1026.0" y1="85.7" x2="1026.0" y2="115.6" stroke="#555555" stroke-width="2" />
<line x1="1096.0" y1="85.7" x2="1096.0" y2="115.6" stroke="#555555" stroke-width="2" />
<line x1="1026.0" y1="115.6" x2="1060.0" y2="115.6" stroke="#555555" stroke-width="2" />
<line x1="1068.0" y1="115.6" x2="1096.0" y2="115.6" stroke="#555555" stroke-width="2" />
<path d="M 1053 111.6 L 1059 115.6 L 1053 119.6 M 1062 111.6 L 1068 115.6 L 1062 119.6" fill="none" stroke="#555555" stroke-width="1.8"/>
<circle cx="846.9" cy="85.7" r="5.2" fill="#111"/>
<circle cx="937.3" cy="85.7" r="5.2" fill="#111"/>
<circle cx="1025.6" cy="85.7" r="5.2" fill="#111"/>
<text x="871.0" y="70.5" font-size="18" fill="#333" text-anchor="start" ><tspan font-style="italic">R</tspan><tspan font-size="11.5" dx="0.5" dy="6">b</tspan></text>
<text x="954.5" y="70.5" font-size="18" fill="#333" text-anchor="start" ><tspan font-style="italic">R</tspan><tspan font-size="11.5" dx="0.5" dy="6">gb</tspan></text>
<text x="1043.0" y="70.5" font-size="18" fill="#333" text-anchor="start" ><tspan font-style="italic">R</tspan><tspan font-size="11.5" dx="0.5" dy="6">e</tspan></text>
<text x="874.0" y="142.6" font-size="18" fill="#333" text-anchor="start" ><tspan font-style="italic">C</tspan><tspan font-size="11.5" dx="0.5" dy="6">b</tspan></text>
<text x="946.0" y="142.6" font-size="18.5" fill="#333" text-anchor="start" ><tspan font-style="italic">CPE</tspan><tspan font-size="11.5" dx="2.5" dy="6">gb</tspan></text>
<text x="1040.0" y="142.6" font-size="18.5" fill="#333" text-anchor="start" ><tspan font-style="italic">CPE</tspan><tspan font-size="11.5" dx="2.5" dy="6">e</tspan></text>
<text x="800.3" y="448.5" font-size="20" fill="#1b1b1b" text-anchor="start" >1 MHz</text>
<line x1="862.2" y1="444.4" x2="881.1" y2="436.5" stroke="#555" stroke-width="1.4" />
<polygon points="891.2,432.2 882.7,440.3 883.0,435.7 879.5,432.6" fill="#1b1b1b"/>
<line x1="862.2" y1="444.4" x2="875.0" y2="451.4" stroke="#555" stroke-width="1.4" />
<polygon points="884.7,456.6 873.0,455.0 876.8,452.3 877.0,447.7" fill="#1b1b1b"/>
<text x="998.4" y="397.5" font-size="21.5" fill="#1b1b1b" text-anchor="start" >10 kHz</text>
<line x1="995.6" y1="400.3" x2="978.2" y2="441.8" stroke="#555" stroke-width="1.4" />
<polygon points="974.0,451.9 974.4,440.1 977.5,443.6 982.1,443.4" fill="#1b1b1b"/>
<text x="1137.2" y="487.0" font-size="21.5" fill="#1b1b1b" text-anchor="start" >5 kHz</text>
<line x1="1126.9" y1="485.6" x2="1083.5" y2="484.9" stroke="#555" stroke-width="1.4" />
<polygon points="1072.5,484.7 1083.6,480.7 1081.5,484.8 1083.4,489.1" fill="#1b1b1b"/>
<text x="809.7" y="497.0" font-size="23" fill="#1b1b1b" text-anchor="start" >R<tspan font-size="15" dy="7">b</tspan></text>
<line x1="806.9" y1="497.8" x2="787.0" y2="497.8" stroke="#555" stroke-width="1.4" />
<polygon points="776.0,497.8 787.0,493.6 785.0,497.8 787.0,502.0" fill="#1b1b1b"/>
<line x1="839.7" y1="497.8" x2="859.6" y2="497.8" stroke="#555" stroke-width="1.4" />
<polygon points="870.6,497.8 859.6,502.0 861.6,497.8 859.6,493.6" fill="#1b1b1b"/>
<text x="965.6" y="497.0" font-size="23" fill="#1b1b1b" text-anchor="start" >R<tspan font-size="15" dy="7">gb</tspan></text>
<line x1="957.8" y1="497.8" x2="896.6" y2="497.8" stroke="#555" stroke-width="1.4" />
<polygon points="885.6,497.8 896.6,493.6 894.6,497.8 896.6,502.0" fill="#1b1b1b"/>
<line x1="1007.8" y1="498.5" x2="1059.6" y2="498.5" stroke="#555" stroke-width="1.4" />
<polygon points="1070.6,498.5 1059.6,502.7 1061.6,498.5 1059.6,494.3" fill="#1b1b1b"/>
<rect x="107" y="630.8" width="502.4" height="501.70000000000005" fill="none" stroke="#1b1b1b" stroke-width="2.5"/>
<line x1="141.7" y1="1132.5" x2="141.7" y2="1126.5" stroke="#1b1b1b" stroke-width="2.2" />
<line x1="176.3" y1="1132.5" x2="176.3" y2="1122.5" stroke="#1b1b1b" stroke-width="2.2" />
<line x1="211.0" y1="1132.5" x2="211.0" y2="1126.5" stroke="#1b1b1b" stroke-width="2.2" />
<line x1="245.6" y1="1132.5" x2="245.6" y2="1122.5" stroke="#1b1b1b" stroke-width="2.2" />
<line x1="280.3" y1="1132.5" x2="280.3" y2="1126.5" stroke="#1b1b1b" stroke-width="2.2" />
<line x1="314.9" y1="1132.5" x2="314.9" y2="1122.5" stroke="#1b1b1b" stroke-width="2.2" />
<line x1="349.6" y1="1132.5" x2="349.6" y2="1126.5" stroke="#1b1b1b" stroke-width="2.2" />
<line x1="384.2" y1="1132.5" x2="384.2" y2="1122.5" stroke="#1b1b1b" stroke-width="2.2" />
<line x1="418.9" y1="1132.5" x2="418.9" y2="1126.5" stroke="#1b1b1b" stroke-width="2.2" />
<line x1="453.6" y1="1132.5" x2="453.6" y2="1122.5" stroke="#1b1b1b" stroke-width="2.2" />
<line x1="488.2" y1="1132.5" x2="488.2" y2="1126.5" stroke="#1b1b1b" stroke-width="2.2" />
<line x1="522.9" y1="1132.5" x2="522.9" y2="1122.5" stroke="#1b1b1b" stroke-width="2.2" />
<line x1="557.5" y1="1132.5" x2="557.5" y2="1126.5" stroke="#1b1b1b" stroke-width="2.2" />
<line x1="592.2" y1="1132.5" x2="592.2" y2="1122.5" stroke="#1b1b1b" stroke-width="2.2" />
<line x1="107.0" y1="1082.3" x2="113.0" y2="1082.3" stroke="#1b1b1b" stroke-width="2.2" />
<line x1="107.0" y1="1032.2" x2="117.0" y2="1032.2" stroke="#1b1b1b" stroke-width="2.2" />
<line x1="107.0" y1="982.0" x2="113.0" y2="982.0" stroke="#1b1b1b" stroke-width="2.2" />
<line x1="107.0" y1="931.8" x2="117.0" y2="931.8" stroke="#1b1b1b" stroke-width="2.2" />
<line x1="107.0" y1="881.6" x2="113.0" y2="881.6" stroke="#1b1b1b" stroke-width="2.2" />
<line x1="107.0" y1="831.5" x2="117.0" y2="831.5" stroke="#1b1b1b" stroke-width="2.2" />
<line x1="107.0" y1="781.3" x2="113.0" y2="781.3" stroke="#1b1b1b" stroke-width="2.2" />
<line x1="107.0" y1="731.1" x2="117.0" y2="731.1" stroke="#1b1b1b" stroke-width="2.2" />
<line x1="107.0" y1="681.0" x2="113.0" y2="681.0" stroke="#1b1b1b" stroke-width="2.2" />
<text x="107.0" y="1162.0" font-size="23" fill="#1b1b1b" text-anchor="middle" >0</text>
<text x="176.3" y="1162.0" font-size="23" fill="#1b1b1b" text-anchor="middle" >100</text>
<text x="245.6" y="1162.0" font-size="23" fill="#1b1b1b" text-anchor="middle" >200</text>
<text x="314.9" y="1162.0" font-size="23" fill="#1b1b1b" text-anchor="middle" >300</text>
<text x="384.2" y="1162.0" font-size="23" fill="#1b1b1b" text-anchor="middle" >400</text>
<text x="453.6" y="1162.0" font-size="23" fill="#1b1b1b" text-anchor="middle" >500</text>
<text x="522.9" y="1162.0" font-size="23" fill="#1b1b1b" text-anchor="middle" >600</text>
<text x="592.2" y="1162.0" font-size="23" fill="#1b1b1b" text-anchor="middle" >700</text>
<text x="94.0" y="1140.7" font-size="23" fill="#1b1b1b" text-anchor="end" >-50</text>
<text x="94.0" y="1040.4" font-size="23" fill="#1b1b1b" text-anchor="end" >0</text>
<text x="94.0" y="940.0" font-size="23" fill="#1b1b1b" text-anchor="end" >50</text>
<text x="94.0" y="839.7" font-size="23" fill="#1b1b1b" text-anchor="end" >100</text>
<text x="94.0" y="739.3" font-size="23" fill="#1b1b1b" text-anchor="end" >150</text>
<text x="94.0" y="639.0" font-size="23" fill="#1b1b1b" text-anchor="end" >200</text>
<text x="16.6" y="643.3" font-size="30" fill="#1b1b1b" text-anchor="start" >c<tspan dx="2.5">)</tspan></text>
<text x="112.7" y="660.0" font-size="26" fill="#2a20d8" text-anchor="start" >LLCZN</text>
<text x="594.0" y="659.5" font-size="26" fill="#1b1b1b" text-anchor="end" >25 °C</text>
<text x="358.0" y="1207.5" font-size="31" fill="#1b1b1b" text-anchor="middle" >Elapsed time (h)</text>
<g transform="translate(0,0)">
<path d="M 4.6 942.3 L 30.3 932.3 L 30.3 953.6 Z" fill="none" stroke="#1b1b1b" stroke-width="2" stroke-linejoin="miter"/>
<path d="M 6 941.8 L 30.3 932.3" fill="none" stroke="#1b1b1b" stroke-width="1.2"/>
<ellipse cx="37.6" cy="917.6" rx="9" ry="7.6" fill="none" stroke="#1b1b1b" stroke-width="2.3"/>
<path d="M 34 925.2 L 55 925.2" stroke="#1b1b1b" stroke-width="2.7"/>
<path d="M 33.8 895 L 33.8 906.5 M 33.8 901.5 L 47 901.5" stroke="#1b1b1b" stroke-width="1.9"/>
<text transform="translate(31.5,880.5) rotate(-90)" font-size="42" fill="#1b1b1b">(%)</text>
</g>
<path d="M 108.8 1032.5 L 141.2 1017.5 L 156.2 1030.5 L 176.2 1029.2 L 223.2 1028.9 L 224.9 969.6 L 227.0 1003.1 L 240.9 992.5 L 258.1 953.3 L 272.2 948.1 L 290.2 926.6 L 293.3 1018.9 L 321.2 1007.4 L 355.2 1006.2 L 373.2 1004.0 L 389.6 1003.1 L 390.4 992.0 L 392.2 823.4 L 405.9 867.5 L 440.9 883.4 L 455.9 854.4 L 474.7 887.2 L 488.4 852.5 L 508.4 1002.5 L 525.3 976.2 L 556.2 977.2 L 573.1 974.0 L 603.7 969.3" fill="none" stroke="#1b1b1b" stroke-width="2"/>
<rect x="217.4" y="1023.2" width="11.5" height="11.5" fill="#000" stroke="#1b1b1b" stroke-width="0"/>
<rect x="219.2" y="963.9" width="11.5" height="11.5" fill="#000" stroke="#1b1b1b" stroke-width="0"/>
<rect x="221.2" y="997.4" width="11.5" height="11.5" fill="#000" stroke="#1b1b1b" stroke-width="0"/>
<rect x="235.2" y="986.8" width="11.5" height="11.5" fill="#000" stroke="#1b1b1b" stroke-width="0"/>
<rect x="252.4" y="947.5" width="11.5" height="11.5" fill="#000" stroke="#1b1b1b" stroke-width="0"/>
<rect x="266.4" y="942.4" width="11.5" height="11.5" fill="#000" stroke="#1b1b1b" stroke-width="0"/>
<rect x="284.4" y="920.9" width="11.5" height="11.5" fill="#000" stroke="#1b1b1b" stroke-width="0"/>
<rect x="384.6" y="986.2" width="11.5" height="11.5" fill="#000" stroke="#1b1b1b" stroke-width="0"/>
<rect x="386.4" y="817.6" width="11.5" height="11.5" fill="#000" stroke="#1b1b1b" stroke-width="0"/>
<rect x="400.1" y="861.8" width="11.5" height="11.5" fill="#000" stroke="#1b1b1b" stroke-width="0"/>
<rect x="435.1" y="877.6" width="11.5" height="11.5" fill="#000" stroke="#1b1b1b" stroke-width="0"/>
<rect x="450.1" y="848.6" width="11.5" height="11.5" fill="#000" stroke="#1b1b1b" stroke-width="0"/>
<rect x="468.9" y="881.5" width="11.5" height="11.5" fill="#000" stroke="#1b1b1b" stroke-width="0"/>
<rect x="482.6" y="846.8" width="11.5" height="11.5" fill="#000" stroke="#1b1b1b" stroke-width="0"/>
<circle cx="108.8" cy="1032.5" r="5.3" fill="#fff" stroke="#e41d2e" stroke-width="2.2"/>
<circle cx="141.2" cy="1017.5" r="5.3" fill="#fff" stroke="#e41d2e" stroke-width="2.2"/>
<circle cx="156.2" cy="1030.5" r="5.3" fill="#fff" stroke="#e41d2e" stroke-width="2.2"/>
<circle cx="176.2" cy="1029.2" r="5.3" fill="#fff" stroke="#e41d2e" stroke-width="2.2"/>
<circle cx="293.3" cy="1018.9" r="5.3" fill="#fff" stroke="#e41d2e" stroke-width="2.2"/>
<circle cx="321.2" cy="1007.4" r="5.3" fill="#fff" stroke="#e41d2e" stroke-width="2.2"/>
<circle cx="355.2" cy="1006.2" r="5.3" fill="#fff" stroke="#e41d2e" stroke-width="2.2"/>
<circle cx="373.2" cy="1004.0" r="5.3" fill="#fff" stroke="#e41d2e" stroke-width="2.2"/>
<circle cx="389.6" cy="1003.1" r="5.3" fill="#fff" stroke="#e41d2e" stroke-width="2.2"/>
<circle cx="508.4" cy="1002.5" r="5.3" fill="#fff" stroke="#e41d2e" stroke-width="2.2"/>
<circle cx="525.3" cy="976.2" r="5.3" fill="#fff" stroke="#e41d2e" stroke-width="2.2"/>
<circle cx="556.2" cy="977.2" r="5.3" fill="#fff" stroke="#e41d2e" stroke-width="2.2"/>
<circle cx="573.1" cy="974.0" r="5.3" fill="#fff" stroke="#e41d2e" stroke-width="2.2"/>
<circle cx="603.7" cy="969.3" r="5.3" fill="#fff" stroke="#e41d2e" stroke-width="2.2"/>
<circle cx="290.6" cy="922" r="5.3" fill="#fff" stroke="#e41d2e" stroke-width="2.2"/>
<circle cx="131.6" cy="706.6" r="6.6" fill="#fff" stroke="#e41d2e" stroke-width="2.2"/>
<text x="153.4" y="713.8" font-size="21.5" fill="#e41d2e" text-anchor="start" >Dry Ar</text>
<rect x="127.0" y="731.1" width="12.0" height="12.0" fill="#000" stroke="#1b1b1b" stroke-width="0"/>
<text x="151.3" y="746.3" font-size="21.5" fill="#1b1b1b" text-anchor="start" >3% H<tspan font-size="17" dy="6">2</tspan><tspan dy="-6">O/Ar</tspan></text>
<rect x="765.5" y="630.3" width="502.5" height="502.0" fill="none" stroke="#1b1b1b" stroke-width="2.5"/>
<line x1="800.2" y1="1132.3" x2="800.2" y2="1126.3" stroke="#1b1b1b" stroke-width="2.2" />
<line x1="834.8" y1="1132.3" x2="834.8" y2="1122.3" stroke="#1b1b1b" stroke-width="2.2" />
<line x1="869.5" y1="1132.3" x2="869.5" y2="1126.3" stroke="#1b1b1b" stroke-width="2.2" />
<line x1="904.1" y1="1132.3" x2="904.1" y2="1122.3" stroke="#1b1b1b" stroke-width="2.2" />
<line x1="938.8" y1="1132.3" x2="938.8" y2="1126.3" stroke="#1b1b1b" stroke-width="2.2" />
<line x1="973.4" y1="1132.3" x2="973.4" y2="1122.3" stroke="#1b1b1b" stroke-width="2.2" />
<line x1="1008.1" y1="1132.3" x2="1008.1" y2="1126.3" stroke="#1b1b1b" stroke-width="2.2" />
<line x1="1042.7" y1="1132.3" x2="1042.7" y2="1122.3" stroke="#1b1b1b" stroke-width="2.2" />
<line x1="1077.4" y1="1132.3" x2="1077.4" y2="1126.3" stroke="#1b1b1b" stroke-width="2.2" />
<line x1="1112.0" y1="1132.3" x2="1112.0" y2="1122.3" stroke="#1b1b1b" stroke-width="2.2" />
<line x1="1146.7" y1="1132.3" x2="1146.7" y2="1126.3" stroke="#1b1b1b" stroke-width="2.2" />
<line x1="1181.4" y1="1132.3" x2="1181.4" y2="1122.3" stroke="#1b1b1b" stroke-width="2.2" />
<line x1="1216.0" y1="1132.3" x2="1216.0" y2="1126.3" stroke="#1b1b1b" stroke-width="2.2" />
<line x1="1250.7" y1="1132.3" x2="1250.7" y2="1122.3" stroke="#1b1b1b" stroke-width="2.2" />
<line x1="765.5" y1="1082.1" x2="771.5" y2="1082.1" stroke="#1b1b1b" stroke-width="2.2" />
<line x1="765.5" y1="1031.9" x2="775.5" y2="1031.9" stroke="#1b1b1b" stroke-width="2.2" />
<line x1="765.5" y1="981.7" x2="771.5" y2="981.7" stroke="#1b1b1b" stroke-width="2.2" />
<line x1="765.5" y1="931.5" x2="775.5" y2="931.5" stroke="#1b1b1b" stroke-width="2.2" />
<line x1="765.5" y1="881.3" x2="771.5" y2="881.3" stroke="#1b1b1b" stroke-width="2.2" />
<line x1="765.5" y1="831.1" x2="775.5" y2="831.1" stroke="#1b1b1b" stroke-width="2.2" />
<line x1="765.5" y1="780.9" x2="771.5" y2="780.9" stroke="#1b1b1b" stroke-width="2.2" />
<line x1="765.5" y1="730.7" x2="775.5" y2="730.7" stroke="#1b1b1b" stroke-width="2.2" />
<line x1="765.5" y1="680.5" x2="771.5" y2="680.5" stroke="#1b1b1b" stroke-width="2.2" />
<text x="765.5" y="1161.8" font-size="23" fill="#1b1b1b" text-anchor="middle" >0</text>
<text x="834.8" y="1161.8" font-size="23" fill="#1b1b1b" text-anchor="middle" >100</text>
<text x="904.1" y="1161.8" font-size="23" fill="#1b1b1b" text-anchor="middle" >200</text>
<text x="973.4" y="1161.8" font-size="23" fill="#1b1b1b" text-anchor="middle" >300</text>
<text x="1042.7" y="1161.8" font-size="23" fill="#1b1b1b" text-anchor="middle" >400</text>
<text x="1112.0" y="1161.8" font-size="23" fill="#1b1b1b" text-anchor="middle" >500</text>
<text x="1181.4" y="1161.8" font-size="23" fill="#1b1b1b" text-anchor="middle" >600</text>
<text x="1250.7" y="1161.8" font-size="23" fill="#1b1b1b" text-anchor="middle" >700</text>
<text x="752.5" y="1140.5" font-size="23" fill="#1b1b1b" text-anchor="end" >-50</text>
<text x="752.5" y="1040.1" font-size="23" fill="#1b1b1b" text-anchor="end" >0</text>
<text x="752.5" y="939.7" font-size="23" fill="#1b1b1b" text-anchor="end" >50</text>
<text x="752.5" y="839.3" font-size="23" fill="#1b1b1b" text-anchor="end" >100</text>
<text x="752.5" y="738.9" font-size="23" fill="#1b1b1b" text-anchor="end" >150</text>
<text x="752.5" y="638.5" font-size="23" fill="#1b1b1b" text-anchor="end" >200</text>
<text x="662.5" y="643.2" font-size="30" fill="#1b1b1b" text-anchor="start" >d<tspan dx="2">)</tspan></text>
<text x="771.0" y="659.0" font-size="26" fill="#e41d2e" text-anchor="start" >ALD-LLCZN</text>
<text x="1252.5" y="659.5" font-size="26" fill="#1b1b1b" text-anchor="end" >25 °C</text>
<text x="1016.8" y="1207.5" font-size="31" fill="#1b1b1b" text-anchor="middle" >Elapsed time (h)</text>
<g transform="translate(662.4,7)">
<path d="M 4.6 942.3 L 30.3 932.3 L 30.3 953.6 Z" fill="none" stroke="#1b1b1b" stroke-width="2" stroke-linejoin="miter"/>
<path d="M 6 941.8 L 30.3 932.3" fill="none" stroke="#1b1b1b" stroke-width="1.2"/>
<ellipse cx="37.6" cy="917.6" rx="9" ry="7.6" fill="none" stroke="#1b1b1b" stroke-width="2.3"/>
<path d="M 34 925.2 L 55 925.2" stroke="#1b1b1b" stroke-width="2.7"/>
<path d="M 33.8 895 L 33.8 906.5 M 33.8 901.5 L 47 901.5" stroke="#1b1b1b" stroke-width="1.9"/>
<text transform="translate(31.5,880.5) rotate(-90)" font-size="42" fill="#1b1b1b">(%)</text>
</g>
<path d="M 766.9 1031.8 L 799.6 1023.7 L 814.6 1031.1 L 834.5 1030.1 L 881.7 1031.1 L 883.3 978.3 L 885.6 998.3 L 899.5 997.6 L 916.8 989.8 L 930.6 985.6 L 949.5 978.7 L 951.4 1106.7 L 980.2 1104.6 L 1014.0 1105.6 L 1031.6 1106.1 L 1048.0 1106.1 L 1050.3 906.9 L 1064.4 949.1 L 1099.5 965.5 L 1114.0 953.8 L 1132.8 969.0 L 1146.9 959.6 L 1166.8 1101.4 L 1183.4 1093.7 L 1214.4 1092.0 L 1231.5 1090.9 L 1262.0 1090.4" fill="none" stroke="#1b1b1b" stroke-width="2"/>
<rect x="877.5" y="972.5" width="11.5" height="11.5" fill="#000" stroke="#1b1b1b" stroke-width="0"/>
<rect x="879.9" y="992.5" width="11.5" height="11.5" fill="#000" stroke="#1b1b1b" stroke-width="0"/>
<rect x="893.8" y="991.9" width="11.5" height="11.5" fill="#000" stroke="#1b1b1b" stroke-width="0"/>
<rect x="911.0" y="984.0" width="11.5" height="11.5" fill="#000" stroke="#1b1b1b" stroke-width="0"/>
<rect x="924.9" y="979.9" width="11.5" height="11.5" fill="#000" stroke="#1b1b1b" stroke-width="0"/>
<rect x="943.8" y="973.0" width="11.5" height="11.5" fill="#000" stroke="#1b1b1b" stroke-width="0"/>
<rect x="1044.5" y="901.1" width="11.5" height="11.5" fill="#000" stroke="#1b1b1b" stroke-width="0"/>
<rect x="1058.7" y="943.4" width="11.5" height="11.5" fill="#000" stroke="#1b1b1b" stroke-width="0"/>
<rect x="1093.8" y="959.8" width="11.5" height="11.5" fill="#000" stroke="#1b1b1b" stroke-width="0"/>
<rect x="1108.2" y="948.0" width="11.5" height="11.5" fill="#000" stroke="#1b1b1b" stroke-width="0"/>
<rect x="1127.0" y="963.2" width="11.5" height="11.5" fill="#000" stroke="#1b1b1b" stroke-width="0"/>
<rect x="1141.2" y="953.9" width="11.5" height="11.5" fill="#000" stroke="#1b1b1b" stroke-width="0"/>
<rect x="1161.0" y="1095.7" width="11.5" height="11.5" fill="#000" stroke="#1b1b1b" stroke-width="0"/>
<circle cx="766.9" cy="1031.8" r="5.3" fill="#fff" stroke="#e41d2e" stroke-width="2.2"/>
<circle cx="799.6" cy="1023.7" r="5.3" fill="#fff" stroke="#e41d2e" stroke-width="2.2"/>
<circle cx="814.6" cy="1031.1" r="5.3" fill="#fff" stroke="#e41d2e" stroke-width="2.2"/>
<circle cx="834.5" cy="1030.1" r="5.3" fill="#fff" stroke="#e41d2e" stroke-width="2.2"/>
<circle cx="881.7" cy="1031.1" r="5.3" fill="#fff" stroke="#e41d2e" stroke-width="2.2"/>
<circle cx="951.4" cy="1106.7" r="5.3" fill="#fff" stroke="#e41d2e" stroke-width="2.2"/>
<circle cx="980.2" cy="1104.6" r="5.3" fill="#fff" stroke="#e41d2e" stroke-width="2.2"/>
<circle cx="1014.0" cy="1105.6" r="5.3" fill="#fff" stroke="#e41d2e" stroke-width="2.2"/>
<circle cx="1031.6" cy="1106.1" r="5.3" fill="#fff" stroke="#e41d2e" stroke-width="2.2"/>
<circle cx="1048.0" cy="1106.1" r="5.3" fill="#fff" stroke="#e41d2e" stroke-width="2.2"/>
<circle cx="1183.4" cy="1093.7" r="5.3" fill="#fff" stroke="#e41d2e" stroke-width="2.2"/>
<circle cx="1214.4" cy="1092.0" r="5.3" fill="#fff" stroke="#e41d2e" stroke-width="2.2"/>
<circle cx="1231.5" cy="1090.9" r="5.3" fill="#fff" stroke="#e41d2e" stroke-width="2.2"/>
<circle cx="1262.0" cy="1090.4" r="5.3" fill="#fff" stroke="#e41d2e" stroke-width="2.2"/>
<circle cx="1048.7" cy="896.3" r="5.3" fill="#fff" stroke="#e41d2e" stroke-width="2.2"/>
<circle cx="790.3" cy="705.6" r="6.6" fill="#fff" stroke="#e41d2e" stroke-width="2.2"/>
<text x="812.7" y="712.8" font-size="21.5" fill="#e41d2e" text-anchor="start" >Dry Ar</text>
<rect x="783.3" y="732.1" width="12.0" height="12.0" fill="#000" stroke="#1b1b1b" stroke-width="0"/>
<text x="809.6" y="747.3" font-size="21.5" fill="#1b1b1b" text-anchor="start" >3% H<tspan font-size="17" dy="6">2</tspan><tspan dy="-6">O/Ar</tspan></text>
</svg>
</body></html>
